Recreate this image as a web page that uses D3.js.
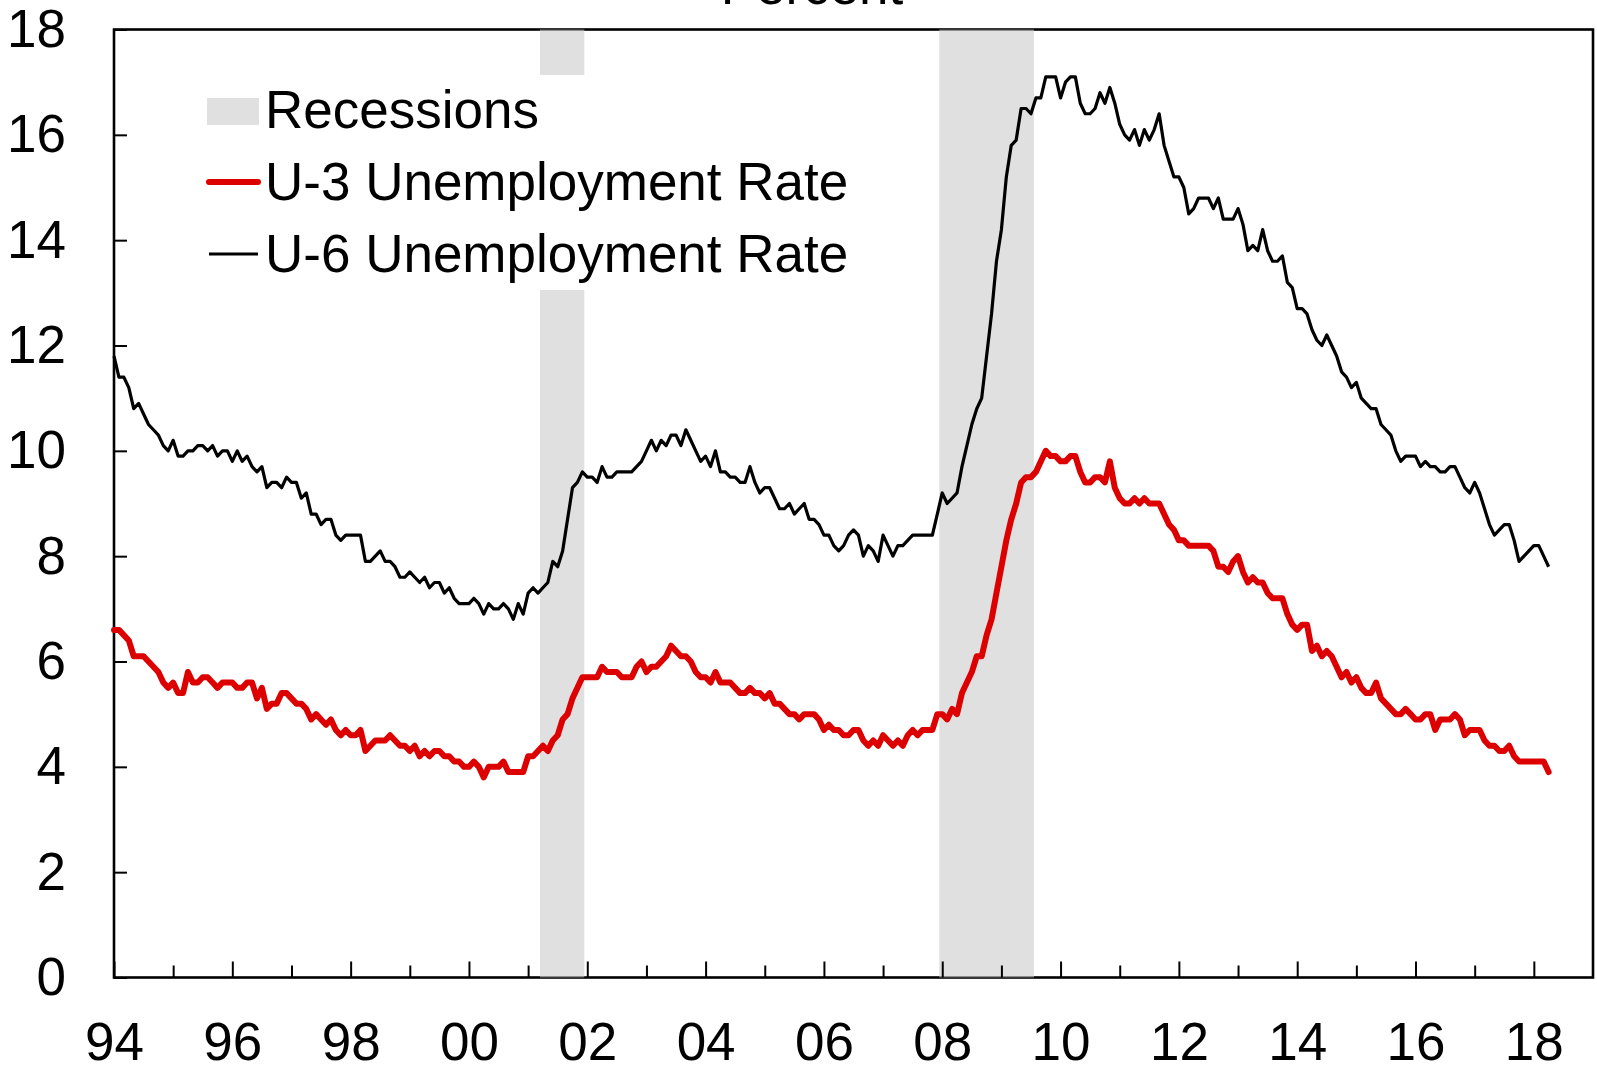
<!DOCTYPE html>
<html>
<head>
<meta charset="utf-8">
<script src="https://cdn.jsdelivr.net/npm/d3@7"></script>
<style>
  body { margin: 0; background: #fff; }
  svg text { font-family: "Liberation Sans", Arial, sans-serif; fill: #000; }
</style>
</head>
<body>
<script>
'use strict';

// monthly data, Jan 1994 .. Apr 2018
var startYear = 1994;
var u3Rate = [
  6.6, 6.6, 6.5, 6.4, 6.1, 6.1, 6.1, 6.0, 5.9, 5.8, 5.6, 5.5, // 1994
  5.6, 5.4, 5.4, 5.8, 5.6, 5.6, 5.7, 5.7, 5.6, 5.5, 5.6, 5.6, // 1995
  5.6, 5.5, 5.5, 5.6, 5.6, 5.3, 5.5, 5.1, 5.2, 5.2, 5.4, 5.4, // 1996
  5.3, 5.2, 5.2, 5.1, 4.9, 5.0, 4.9, 4.8, 4.9, 4.7, 4.6, 4.7, // 1997
  4.6, 4.6, 4.7, 4.3, 4.4, 4.5, 4.5, 4.5, 4.6, 4.5, 4.4, 4.4, // 1998
  4.3, 4.4, 4.2, 4.3, 4.2, 4.3, 4.3, 4.2, 4.2, 4.1, 4.1, 4.0, // 1999
  4.0, 4.1, 4.0, 3.8, 4.0, 4.0, 4.0, 4.1, 3.9, 3.9, 3.9, 3.9, // 2000
  4.2, 4.2, 4.3, 4.4, 4.3, 4.5, 4.6, 4.9, 5.0, 5.3, 5.5, 5.7, // 2001
  5.7, 5.7, 5.7, 5.9, 5.8, 5.8, 5.8, 5.7, 5.7, 5.7, 5.9, 6.0, // 2002
  5.8, 5.9, 5.9, 6.0, 6.1, 6.3, 6.2, 6.1, 6.1, 6.0, 5.8, 5.7, // 2003
  5.7, 5.6, 5.8, 5.6, 5.6, 5.6, 5.5, 5.4, 5.4, 5.5, 5.4, 5.4, // 2004
  5.3, 5.4, 5.2, 5.2, 5.1, 5.0, 5.0, 4.9, 5.0, 5.0, 5.0, 4.9, // 2005
  4.7, 4.8, 4.7, 4.7, 4.6, 4.6, 4.7, 4.7, 4.5, 4.4, 4.5, 4.4, // 2006
  4.6, 4.5, 4.4, 4.5, 4.4, 4.6, 4.7, 4.6, 4.7, 4.7, 4.7, 5.0, // 2007
  5.0, 4.9, 5.1, 5.0, 5.4, 5.6, 5.8, 6.1, 6.1, 6.5, 6.8, 7.3, // 2008
  7.8, 8.3, 8.7, 9.0, 9.4, 9.5, 9.5, 9.6, 9.8, 10.0, 9.9, 9.9, // 2009
  9.8, 9.8, 9.9, 9.9, 9.6, 9.4, 9.4, 9.5, 9.5, 9.4, 9.8, 9.3, // 2010
  9.1, 9.0, 9.0, 9.1, 9.0, 9.1, 9.0, 9.0, 9.0, 8.8, 8.6, 8.5, // 2011
  8.3, 8.3, 8.2, 8.2, 8.2, 8.2, 8.2, 8.1, 7.8, 7.8, 7.7, 7.9, // 2012
  8.0, 7.7, 7.5, 7.6, 7.5, 7.5, 7.3, 7.2, 7.2, 7.2, 6.9, 6.7, // 2013
  6.6, 6.7, 6.7, 6.2, 6.3, 6.1, 6.2, 6.1, 5.9, 5.7, 5.8, 5.6, // 2014
  5.7, 5.5, 5.4, 5.4, 5.6, 5.3, 5.2, 5.1, 5.0, 5.0, 5.1, 5.0, // 2015
  4.9, 4.9, 5.0, 5.0, 4.7, 4.9, 4.9, 4.9, 5.0, 4.9, 4.6, 4.7, // 2016
  4.7, 4.7, 4.5, 4.4, 4.4, 4.3, 4.3, 4.4, 4.2, 4.1, 4.1, 4.1, // 2017
  4.1, 4.1, 4.1, 3.9                                          // 2018
];
var u6Rate = [
  11.8, 11.4, 11.4, 11.2, 10.8, 10.9, 10.7, 10.5, 10.4, 10.3, 10.1, 10.0, // 1994
  10.2, 9.9, 9.9, 10.0, 10.0, 10.1, 10.1, 10.0, 10.1, 9.9, 10.0, 10.0,    // 1995
  9.8, 10.0, 9.8, 9.9, 9.7, 9.6, 9.7, 9.3, 9.4, 9.4, 9.3, 9.5,            // 1996
  9.4, 9.4, 9.1, 9.2, 8.8, 8.8, 8.6, 8.7, 8.7, 8.4, 8.3, 8.4,             // 1997
  8.4, 8.4, 8.4, 7.9, 7.9, 8.0, 8.1, 7.9, 7.9, 7.8, 7.6, 7.6,             // 1998
  7.7, 7.6, 7.5, 7.6, 7.4, 7.5, 7.5, 7.3, 7.4, 7.2, 7.1, 7.1,             // 1999
  7.1, 7.2, 7.1, 6.9, 7.1, 7.0, 7.0, 7.1, 7.0, 6.8, 7.1, 6.9,             // 2000
  7.3, 7.4, 7.3, 7.4, 7.5, 7.9, 7.8, 8.1, 8.7, 9.3, 9.4, 9.6,             // 2001
  9.5, 9.5, 9.4, 9.7, 9.5, 9.5, 9.6, 9.6, 9.6, 9.6, 9.7, 9.8,             // 2002
  10.0, 10.2, 10.0, 10.2, 10.1, 10.3, 10.3, 10.1, 10.4, 10.2, 10.0, 9.8,  // 2003
  9.9, 9.7, 10.0, 9.6, 9.6, 9.5, 9.5, 9.4, 9.4, 9.7, 9.4, 9.2,            // 2004
  9.3, 9.3, 9.1, 8.9, 8.9, 9.0, 8.8, 8.9, 9.0, 8.7, 8.7, 8.6,             // 2005
  8.4, 8.4, 8.2, 8.1, 8.2, 8.4, 8.5, 8.4, 8.0, 8.2, 8.1, 7.9,             // 2006
  8.4, 8.2, 8.0, 8.2, 8.2, 8.3, 8.4, 8.4, 8.4, 8.4, 8.4, 8.8,             // 2007
  9.2, 9.0, 9.1, 9.2, 9.7, 10.1, 10.5, 10.8, 11.0, 11.8, 12.6, 13.6,      // 2008
  14.2, 15.2, 15.8, 15.9, 16.5, 16.5, 16.4, 16.7, 16.7, 17.1, 17.1, 17.1, // 2009
  16.7, 17.0, 17.1, 17.1, 16.6, 16.4, 16.4, 16.5, 16.8, 16.6, 16.9, 16.6, // 2010
  16.2, 16.0, 15.9, 16.1, 15.8, 16.1, 15.9, 16.1, 16.4, 15.8, 15.5, 15.2, // 2011
  15.2, 15.0, 14.5, 14.6, 14.8, 14.8, 14.8, 14.6, 14.8, 14.4, 14.4, 14.4, // 2012
  14.6, 14.3, 13.8, 13.9, 13.8, 14.2, 13.8, 13.6, 13.6, 13.7, 13.2, 13.1, // 2013
  12.7, 12.7, 12.6, 12.3, 12.1, 12.0, 12.2, 12.0, 11.8, 11.5, 11.4, 11.2, // 2014
  11.3, 11.0, 10.9, 10.8, 10.8, 10.5, 10.4, 10.3, 10.0, 9.8, 9.9, 9.9,    // 2015
  9.9, 9.7, 9.8, 9.7, 9.7, 9.6, 9.6, 9.7, 9.7, 9.5, 9.3, 9.2,             // 2016
  9.4, 9.2, 8.9, 8.6, 8.4, 8.5, 8.6, 8.6, 8.3, 7.9, 8.0, 8.1,             // 2017
  8.2, 8.2, 8.0, 7.8                                                      // 2018
];

// recession periods, in decimal years
var recessions = [
  [2001.2, 2001.95],
  [2007.95, 2009.55]
];

var yTicks = [0, 2, 4, 6, 8, 10, 12, 14, 16, 18];
var xMajorYears = [1994, 1996, 1998, 2000, 2002, 2004, 2006, 2008, 2010, 2012, 2014, 2016, 2018];
var xMinorYears = [1995, 1997, 1999, 2001, 2003, 2005, 2007, 2009, 2011, 2013, 2015, 2017];

var legendItems = [
  { label: "Recessions", type: "box" },
  { label: "U-3 Unemployment Rate", type: "u3" },
  { label: "U-6 Unemployment Rate", type: "u6" }
];

var width = 1597, height = 1070;
var plotLeft = 114, plotRight = 1593, plotTop = 29.5, plotBottom = 977.5;
var fontSize = 53;

var svg = d3.select("body").append("svg")
  .attr("width", width)
  .attr("height", height);

var x = d3.scaleLinear().domain([1994, 2019]).range([plotLeft, plotRight]);
var y = d3.scaleLinear().domain([0, 18]).range([plotBottom, plotTop]);

function toSeries(values) {
  return values.map(function(v, i) {
    return { date: startYear + i / 12, value: v };
  });
}

// frame
svg.append("rect")
  .attr("x", plotLeft).attr("y", plotTop)
  .attr("width", plotRight - plotLeft).attr("height", plotBottom - plotTop)
  .attr("fill", "none")
  .attr("stroke", "#000")
  .attr("stroke-width", 2.6);

// recession bands
svg.append("g").selectAll("rect")
  .data(recessions)
  .enter().append("rect")
    .attr("x", d => x(d[0]))
    .attr("width", d => x(d[1]) - x(d[0]))
    .attr("y", plotTop)
    .attr("height", plotBottom - plotTop)
    .attr("fill", "rgb(202,202,202)")
    .attr("fill-opacity", 0.59);

// axes
var yAxis = d3.axisLeft(y)
  .tickValues(yTicks)
  .tickFormat(d3.format("d"))
  .tickSizeInner(-13)
  .tickSizeOuter(0)
  .tickPadding(48);

var gy = svg.append("g")
  .attr("transform", "translate(" + plotLeft + ",0)")
  .call(yAxis);

var xMajor = d3.axisBottom(x)
  .tickValues(xMajorYears)
  .tickFormat(d => String(d).slice(2))
  .tickSizeInner(-16)
  .tickSizeOuter(0)
  .tickPadding(45);

var xMinor = d3.axisBottom(x)
  .tickValues(xMinorYears)
  .tickFormat("")
  .tickSizeInner(-12)
  .tickSizeOuter(0);

var gx = svg.append("g")
  .attr("transform", "translate(0," + plotBottom + ")")
  .call(xMajor);
var gxm = svg.append("g")
  .attr("transform", "translate(0," + plotBottom + ")")
  .call(xMinor);

[gy, gx, gxm].forEach(function(g) {
  g.select(".domain").remove();
  g.selectAll(".tick line").attr("stroke", "#000").attr("stroke-width", 2);
  g.selectAll("text")
    .style("font-size", fontSize + "px")
    .attr("fill", "#000");
});

// lines
var line = d3.line()
  .x(d => x(d.date))
  .y(d => y(d.value));

svg.append("path")
  .datum(toSeries(u6Rate))
  .attr("fill", "none")
  .attr("stroke", "#000")
  .attr("stroke-width", 3.2)
  .attr("stroke-linejoin", "round")
  .attr("d", line);

svg.append("path")
  .datum(toSeries(u3Rate))
  .attr("fill", "none")
  .attr("stroke", "#dd0000")
  .attr("stroke-width", 6)
  .attr("stroke-linejoin", "round")
  .attr("stroke-linecap", "round")
  .attr("d", line);

// legend
var legend = svg.append("g");
legend.append("rect")
  .attr("x", 196).attr("y", 75)
  .attr("width", 664).attr("height", 215)
  .attr("fill", "#fff");

var rows = legend.selectAll("g.item")
  .data(legendItems)
  .enter().append("g")
    .attr("class", "item")
    .attr("transform", (d, i) => "translate(0," + (128 + i * 72) + ")");

rows.each(function(d) {
  var g = d3.select(this);
  if (d.type === "box") {
    g.append("rect")
      .attr("x", 207).attr("y", -30)
      .attr("width", 52).attr("height", 27)
      .attr("fill", "#e0e0e0");
  } else {
    g.append("line")
      .attr("x1", 209).attr("x2", 258)
      .attr("y1", -18).attr("y2", -18)
      .attr("stroke", d.type === "u3" ? "#dd0000" : "#000")
      .attr("stroke-width", d.type === "u3" ? 6 : 3)
      .attr("stroke-linecap", d.type === "u3" ? "round" : "butt");
  }
  g.append("text")
    .attr("x", 265)
    .attr("y", 0)
    .style("font-size", fontSize + "px")
    .text(d.label);
});

// title, cut off at the top
svg.append("text")
  .attr("x", 812)
  .attr("y", 4)
  .attr("text-anchor", "middle")
  .style("font-size", fontSize + "px")
  .text("Percent");
</script>
</body>
</html>
